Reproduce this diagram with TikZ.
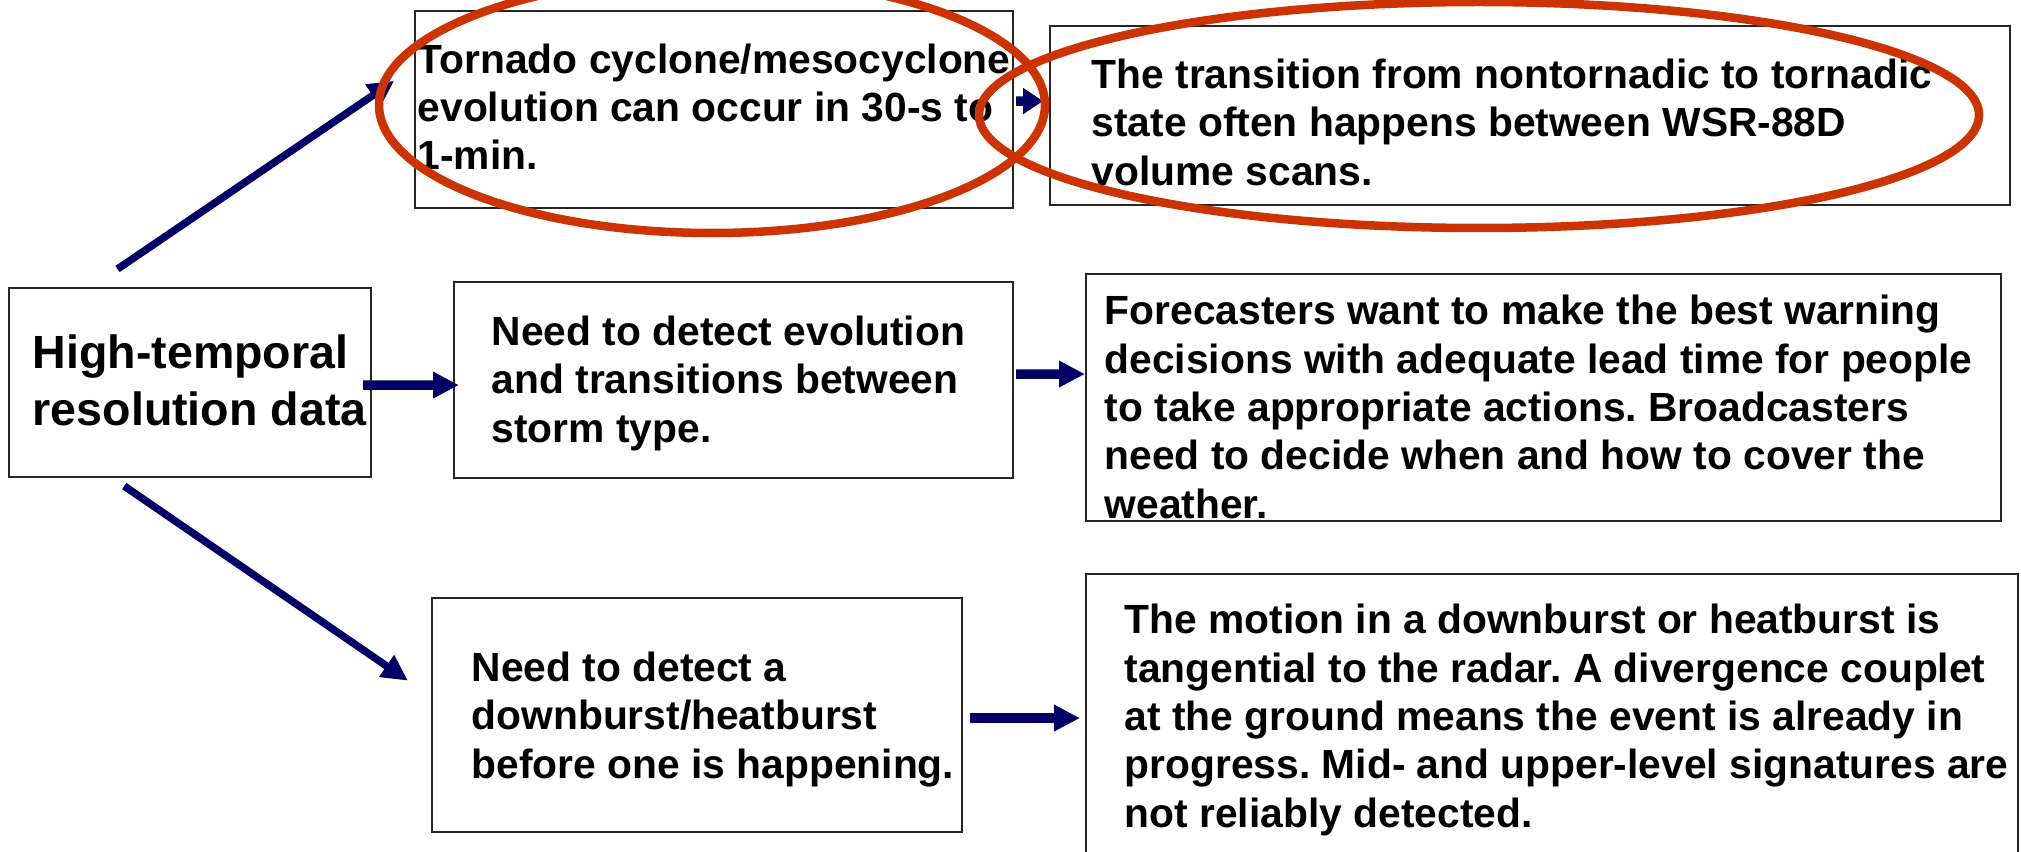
\documentclass[tikz,border=0pt]{standalone}
\usepackage{fontspec}
\setmainfont{Liberation Sans}
\usepackage{tikz}
\usetikzlibrary{arrows.meta}
\definecolor{navy}{RGB}{0,0,102}
\definecolor{ringred}{RGB}{204,51,0}
\frenchspacing

\begin{document}
\begin{tikzpicture}[-,>={Triangle[length=0.26cm,width=0.25cm]},
  box node/.style={rectangle,draw=black!85,line width=0.6pt,inner sep=0,anchor=north west},
  text node/.style={inner sep=0,anchor=base west,align=left,font=\bfseries\fontsize{11.6}{13.75}\selectfont},
  big node/.style={text node,font=\bfseries\fontsize{13.25}{16.2}\selectfont},
  link/.style={->,draw=navy,line width=0.075cm},
  flow/.style={->,draw=navy,line width=0.095cm},
  ring/.style={draw=ringred,line width=0.085cm}]
  \useasboundingbox (0,0) rectangle (20.21,8.51);

  \node[box node,minimum width=3.62cm,minimum height=1.89cm] (1) at (0.08,5.64) {};
  \node[box node,minimum width=5.98cm,minimum height=1.97cm] (2) at (4.14,8.41) {};
  \node[box node,minimum width=9.60cm,minimum height=1.79cm] (3) at (10.49,8.26) {};
  \node[box node,minimum width=5.59cm,minimum height=1.96cm] (4) at (4.53,5.70) {};
  \node[box node,minimum width=9.15cm,minimum height=2.47cm] (5) at (10.85,5.78) {};
  \node[box node,minimum width=5.30cm,minimum height=2.34cm] (6) at (4.31,2.54) {};
  \node[box node,minimum width=9.32cm,minimum height=2.87cm] (7) at (10.85,2.78) {};

  % text sits on the baseline of its last line
  \node[big node] (t1) at ([shift={(0.24,-1.38)}]1.north west) {High-temporal\\resolution data};
  \node[text node] (t2) at ([shift={(0.03,-1.60)}]2.north west) {Tornado cyclone/mesocyclone\\evolution can occur in 30-s to\\1-min.};
  \node[text node] (t3) at ([shift={(0.42,-1.60)}]3.north west) {The transition from nontornadic to tornadic\\state often happens between WSR-88D\\volume scans.};
  \node[text node] (t4) at ([shift={(0.38,-1.61)}]4.north west) {Need to detect evolution\\and transitions between\\storm type.};
  \node[text node] (t5) at ([shift={(0.19,-2.45)}]5.north west) {Forecasters want to make the best warning\\decisions with adequate lead time for people\\to take appropriate actions. Broadcasters\\need to decide when and how to cover the\\weather.};
  \node[text node] (t6) at ([shift={(0.40,-1.81)}]6.north west) {Need to detect a\\downburst/heatburst\\before one is happening.};
  \node[text node] (t7) at ([shift={(0.39,-2.54)}]7.north west) {The motion in a downburst or heatburst is\\tangential to the radar. A divergence couplet\\at the ground means the event is already in\\progress. Mid- and upper-level signatures are\\not reliably detected.};

  \path
    (1.136) edge [link,shorten <=0.32cm,shorten >=0.24cm] (2.172)
    (1.231) edge [link,shorten <=0.14cm,shorten >=0.28cm] (6.176)
    ([yshift=-0.025cm]1.east) edge [flow,shorten <=-0.09cm,shorten >=-0.06cm] ([yshift=-0.05cm]4.west)
    ([yshift=0.085cm]2.east) edge [flow,shorten <=0.02cm,shorten >=0.06cm,-{Triangle[length=0.2cm,width=0.25cm]}] ([yshift=0.145cm]3.west)
    ([yshift=0.06cm]4.east) edge [flow,shorten <=0.02cm] ([yshift=0.235cm]5.west)
    ([yshift=-0.03cm]6.east) edge [flow,shorten <=0.07cm,shorten >=0.05cm] ([yshift=-0.005cm]7.west);

  % the two marked boxes
  \draw[ring] (7.12,7.46) ellipse (3.33 and 1.28);
  \draw[ring] (14.79,7.36) ellipse (5.00 and 1.13);
\end{tikzpicture}
\end{document}
